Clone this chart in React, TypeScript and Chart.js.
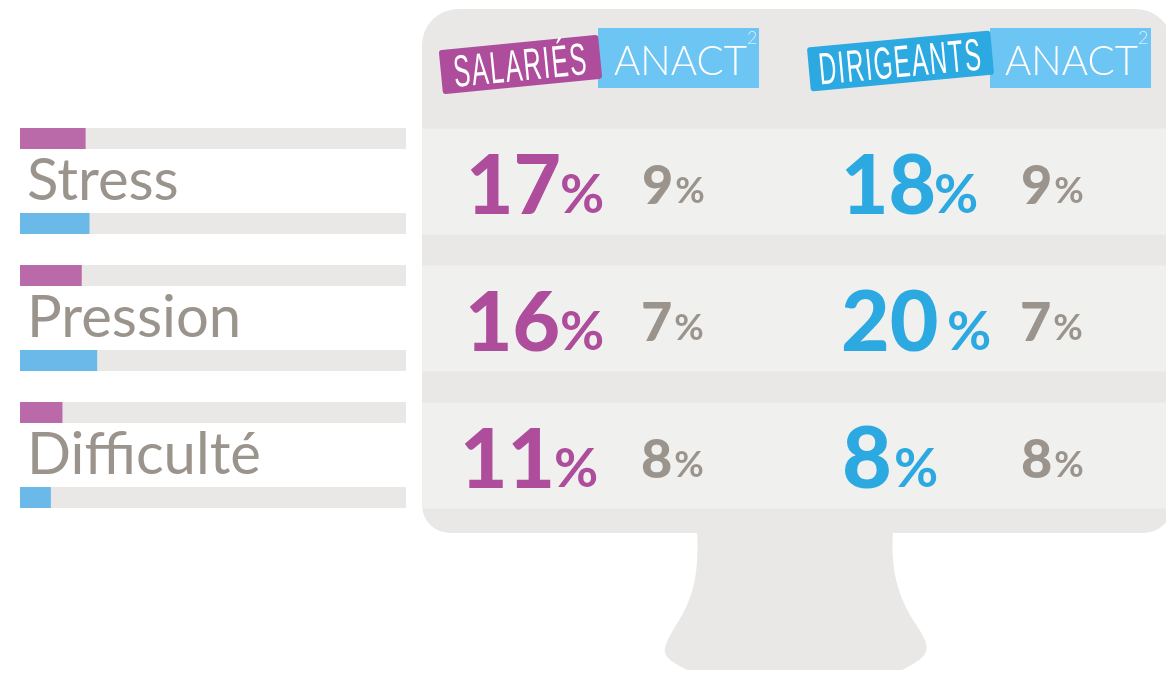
import React, { useEffect, useRef } from "react";
import { Chart, registerables } from "chart.js";

Chart.register(...registerables);

const categories = ["Stress", "Pression", "Difficulté"];
const salaries = [17, 16, 11];
const dirigeants = [18, 20, 8];
const anact = [9, 7, 8];
const seriesNames = ["SALARIÉS", "DIRIGEANTS"];
const referenceName = "ANACT";

const PINK_BAR = "#bb6aa9";
const BLUE_BAR = "#6ab9e8";
const PINK = "#ad4d9b";
const BLUE = "#2ca9e1";
const LIGHT_BLUE = "#6dc5f3";
const GRAY = "#9a948d";
const MONITOR = "#e9e8e7";
const PANEL = "#f0f0ef";

const FONT = "Lato, 'Open Sans', sans-serif";
const NARROW = "'Liberation Sans Narrow', 'Liberation Sans', sans-serif";

const rowBig = [214, 351, 488];
const rowSmall = [204, 341, 478];
const bigSalX = [466, 465, 460];
const bigDirX = [841, 841, 842];
const bigDirSize = [82, 84, 86];
const pctSalX = [560, 560, 554];
const pctDirX = [934, 947, 894];
const smallSalX = [642, 641, 641];
const smallDirX = [1021, 1020, 1021];

function fitText(ctx: CanvasRenderingContext2D, text: string, x: number, y: number, w: number) {
  const m = ctx.measureText(text).width;
  ctx.save();
  ctx.translate(x, y);
  ctx.scale(w / m, 1);
  ctx.textAlign = "left";
  ctx.fillText(text, 0, 0);
  ctx.restore();
}

function pct(
  ctx: CanvasRenderingContext2D,
  value: number,
  x: number,
  y: number,
  size: number,
  pSize: number,
  color: string,
  px: number | null,
) {
  ctx.fillStyle = color;
  ctx.textAlign = "left";
  ctx.textBaseline = "alphabetic";
  ctx.font = `900 ${size}px ${FONT}`;
  const s = String(value);
  ctx.fillText(s, x, y);
  const w = ctx.measureText(s).width;
  ctx.font = `700 ${pSize}px ${FONT}`;
  ctx.fillText("%", px ?? x + w + 2, y - 1);
}

function tag(
  ctx: CanvasRenderingContext2D,
  text: string,
  cx: number,
  cy: number,
  w: number,
  h: number,
  tw: number,
  deg: number,
  color: string,
) {
  ctx.save();
  ctx.translate(cx, cy);
  ctx.rotate((deg * Math.PI) / 180);
  ctx.fillStyle = color;
  ctx.beginPath();
  ctx.roundRect(-w / 2, -h / 2, w, h, 3);
  ctx.fill();
  ctx.fillStyle = "#ffffff";
  ctx.font = `400 45px ${NARROW}`;
  (ctx as any).letterSpacing = "3px";
  ctx.textBaseline = "alphabetic";
  fitText(ctx, text, -tw / 2, 16, tw);
  (ctx as any).letterSpacing = "0px";
  ctx.restore();
}

function anactBox(ctx: CanvasRenderingContext2D, x: number, tx: number) {
  ctx.fillStyle = LIGHT_BLUE;
  ctx.fillRect(x, 28, 161, 60);
  ctx.fillStyle = "#ffffff";
  ctx.font = `300 42px ${FONT}`;
  ctx.textBaseline = "alphabetic";
  fitText(ctx, referenceName, tx, 75, 133);
  ctx.fillStyle = "#d6effc";
  ctx.font = `300 18px ${FONT}`;
  ctx.textAlign = "left";
  ctx.fillText("2", tx + 133, 44);
}

const monitorPlugin = {
  id: "monitor",
  beforeDraw(chart: any) {
    const ctx: CanvasRenderingContext2D = chart.ctx;
    ctx.save();
    ctx.fillStyle = "#ffffff";
    ctx.fillRect(0, 0, chart.width, chart.height);
    // stand
    ctx.fillStyle = MONITOR;
    ctx.beginPath();
    ctx.moveTo(697, 530);
    ctx.bezierCurveTo(699, 570, 695, 595, 678, 622);
    ctx.bezierCurveTo(660, 652, 658, 655, 687, 670);
    ctx.lineTo(902, 670);
    ctx.bezierCurveTo(934, 654, 932, 648, 913, 620);
    ctx.bezierCurveTo(895, 590, 891, 565, 893, 530);
    ctx.closePath();
    ctx.fill();
    // body
    ctx.beginPath();
    ctx.roundRect(422, 9, 750, 524, [36, 36, 28, 28]);
    ctx.fill();
    // panels, aligned with each category
    const yScale = chart.scales.y;
    ctx.fillStyle = PANEL;
    categories.forEach((_, i) => {
      const c = yScale.getPixelForTick(i);
      ctx.fillRect(422, c - 52.5, 744, 106);
    });
    // header
    anactBox(ctx, 598, 614);
    anactBox(ctx, 990, 1005);
    tag(ctx, seriesNames[0], 520.5, 64.5, 160, 44, 135, -5.6, PINK);
    tag(ctx, seriesNames[1], 900.5, 61, 184, 44, 164, -5.3, BLUE);
    // values
    categories.forEach((_, i) => {
      pct(ctx, salaries[i], bigSalX[i], rowBig[i], 82, 54, PINK, pctSalX[i]);
      pct(ctx, dirigeants[i], bigDirX[i], rowBig[i], bigDirSize[i], 54, BLUE, pctDirX[i]);
      pct(ctx, anact[i], smallSalX[i], rowSmall[i], 54, 36, GRAY, null);
      pct(ctx, anact[i], smallDirX[i], rowSmall[i], 54, 36, GRAY, null);
    });
    ctx.restore();
  },
  beforeDatasetsDraw(chart: any) {
    const ctx: CanvasRenderingContext2D = chart.ctx;
    const x = chart.scales.x;
    const x0 = x.getPixelForValue(0);
    const x1 = x.getPixelForValue(100);
    ctx.save();
    ctx.fillStyle = MONITOR;
    chart.data.datasets.forEach((_: any, d: number) => {
      chart.getDatasetMeta(d).data.forEach((bar: any) => {
        ctx.fillRect(x0, bar.y - bar.height / 2, x1 - x0, bar.height);
      });
    });
    ctx.restore();
  },
};

export default function App() {
  const ref = useRef<HTMLCanvasElement>(null);
  useEffect(() => {
    const chart = new Chart(ref.current!, {
      type: "bar",
      data: {
        labels: categories,
        datasets: [
          { label: seriesNames[0], data: salaries, backgroundColor: PINK_BAR, categoryPercentage: 1.241, barPercentage: 0.247 },
          { label: seriesNames[1], data: dirigeants, backgroundColor: BLUE_BAR, categoryPercentage: 1.241, barPercentage: 0.247 },
        ],
      },
      options: {
        indexAxis: "y",
        responsive: false,
        animation: false,
        layout: { padding: { left: 20, right: 760, top: 112.5, bottom: 154.5 } },
        plugins: { legend: { display: false }, tooltip: { enabled: false } },
        scales: {
          x: { min: 0, max: 100, display: false },
          y: {
            afterFit: (scale: any) => {
              scale.width = 0;
            },
            grid: { display: false },
            border: { display: false },
            ticks: {
              mirror: true,
              padding: 7,
              color: GRAY,
              font: { family: "Lato", size: 58, weight: "400" },
              autoSkip: false,
            },
          },
        },
      },
      plugins: [monitorPlugin],
    } as any);
    return () => chart.destroy();
  }, []);
  return (
    <div style={{ position: "fixed", left: 0, top: 0, width: 1166, height: 678, background: "#fff", overflow: "hidden" }}>
      <canvas ref={ref} width={1166} height={678} style={{ display: "block" }} />
    </div>
  );
}
